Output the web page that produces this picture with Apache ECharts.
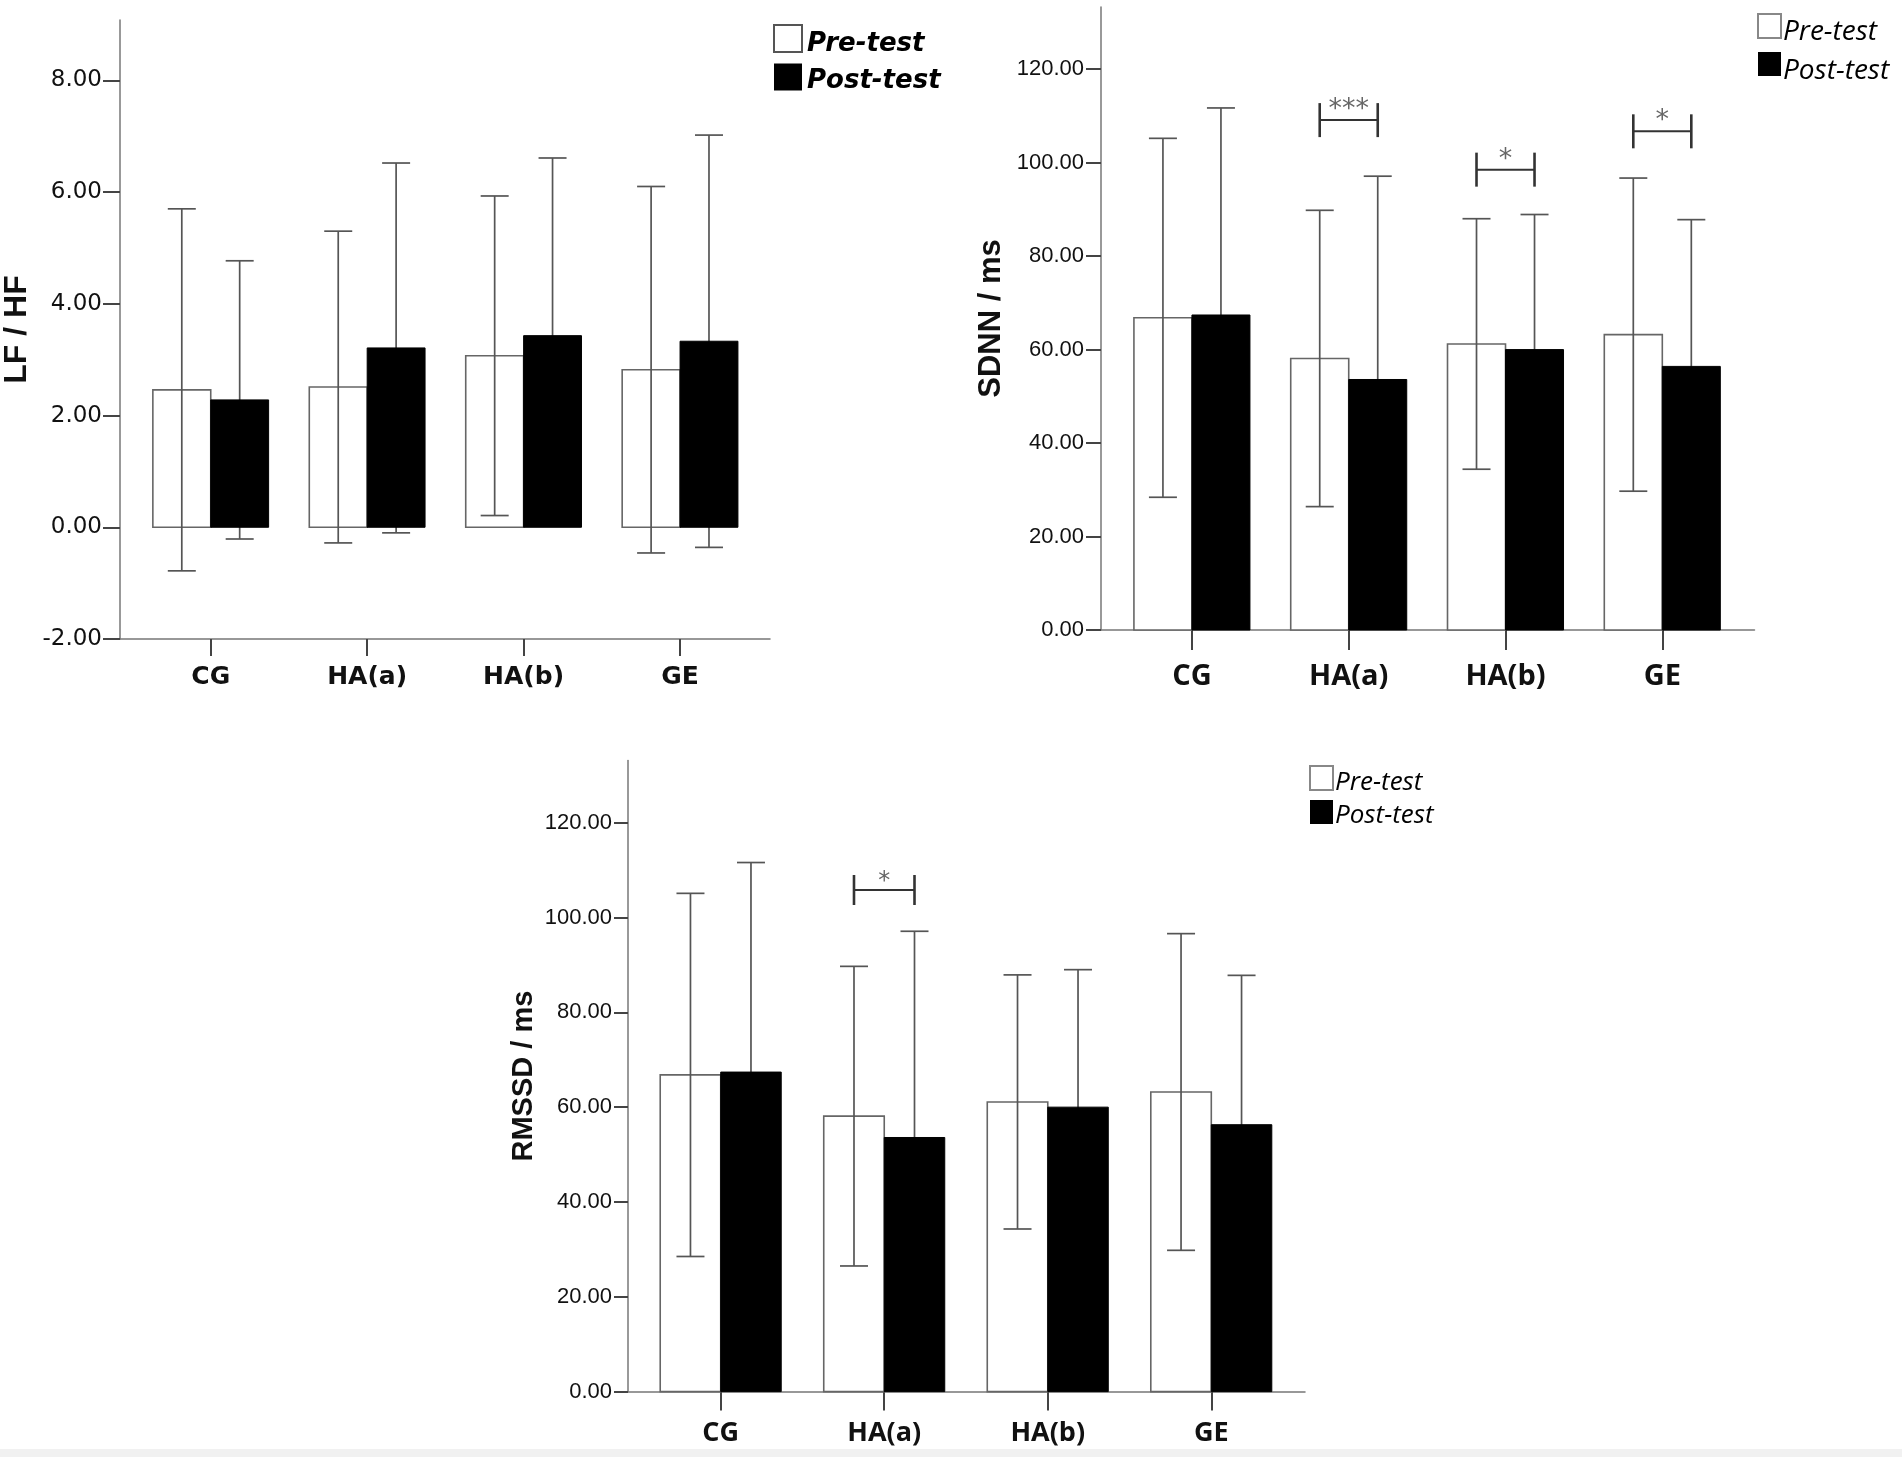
<!DOCTYPE html>
<html><head><meta charset="utf-8">
<script src="https://cdn.jsdelivr.net/npm/echarts@6/dist/echarts.min.js"></script>
<style>html,body{margin:0;padding:0;background:#fff}#c{width:1902px;height:1457px}</style>
</head><body><div id="c"></div><script>
// ---------------- data ----------------
const groups = ['CG', 'HA(a)', 'HA(b)', 'GE'];
const groupTicks = [0, 1, 2, 3];

const lfhfPreMean  = [2.46, 2.51, 3.07, 2.82];
const lfhfPreSD    = [3.24, 2.79, 2.86, 3.28];
const lfhfPostMean = [2.28, 3.21, 3.43, 3.33];
const lfhfPostSD   = [2.49, 3.31, 3.18, 3.69];
const lfhfTicks    = [-2, 0, 2, 4, 6, 8];

const sdnnPreMean  = [66.8, 58.1, 61.2, 63.2];
const sdnnPreSD    = [38.4, 31.7, 26.8, 33.5];
const sdnnPostMean = [67.4, 53.6, 60.0, 56.4];
const sdnnPostSD   = [44.3, 43.5, 28.9, 31.4];

const rmssdPreMean  = [66.8, 58.1, 61.1, 63.2];
const rmssdPreSD    = [38.3, 31.6, 26.8, 33.4];
const rmssdPostMean = [67.4, 53.6, 60.0, 56.3];
const rmssdPostSD   = [44.2, 43.5, 29.0, 31.5];

const msTicks = [0, 20, 40, 60, 80, 100, 120];

const sdnnSigGroups = [1, 2, 3];
const sdnnSigY      = [109.1, 98.5, 106.7];
const sdnnSigLabels = ['***', '*', '*'];

const rmssdSigGroups = [1];
const rmssdSigY      = [105.8];
const rmssdSigLabels = ['*'];

const legendNames = ['Pre-test', 'Post-test'];

// ---------------- font check ----------------
function hasFont(name) {
  const ctx = document.createElement('canvas').getContext('2d');
  const s = 'abcdefghijklmnop0123456789.';
  ctx.font = '40px monospace';
  const w1 = ctx.measureText(s).width;
  ctx.font = "40px '" + name + "', monospace";
  const w2 = ctx.measureText(s).width;
  return Math.abs(w1 - w2) > 0.5;
}
const narrowOK = hasFont('Liberation Sans Narrow');
const msFont = narrowOK ? 'Liberation Sans Narrow' : 'Liberation Sans';
const msFontSize = narrowOK ? 26 : 22;

// ---------------- rendering helpers ----------------
const BW = 0.37; // bar width in category units

function barRender(side) {
  return function (params, api) {
    const x = api.value(0), v = api.value(1);
    const a = api.coord([side < 0 ? x - BW : x, v]);
    const b = api.coord([side < 0 ? x : x + BW, 0]);
    return {
      type: 'rect',
      shape: { x: Math.min(a[0], b[0]), y: Math.min(a[1], b[1]),
               width: Math.abs(b[0] - a[0]), height: Math.abs(b[1] - a[1]) },
      style: side < 0 ? { fill: '#fff', stroke: '#666', lineWidth: 1.6 }
                      : { fill: '#000', stroke: '#000', lineWidth: 1 }
    };
  };
}

function errRender(params, api) {
  const x = api.value(0) + api.value(3) * BW / 2;
  const m = api.value(1), s = api.value(2);
  const t = api.coord([x, m + s]), b = api.coord([x, m - s]);
  const cw = 14;
  const st = { stroke: '#555', lineWidth: 1.7 };
  return { type: 'group', children: [
    { type: 'line', shape: { x1: t[0], y1: t[1], x2: b[0], y2: b[1] }, style: st },
    { type: 'line', shape: { x1: t[0] - cw, y1: t[1], x2: t[0] + cw, y2: t[1] }, style: st },
    { type: 'line', shape: { x1: b[0] - cw, y1: b[1], x2: b[0] + cw, y2: b[1] }, style: st }
  ] };
}

function sigRender(labels, h, fs) {
  return function (params, api) {
    const g = api.value(0), y = api.value(1);
    const L = api.coord([g - BW / 2, y]), R = api.coord([g + BW / 2, y]);
    return { type: 'group', children: [
      { type: 'line', shape: { x1: L[0], y1: L[1], x2: R[0], y2: R[1] }, style: { stroke: '#333', lineWidth: 2 } },
      { type: 'line', shape: { x1: L[0], y1: L[1] - h, x2: L[0], y2: L[1] + h }, style: { stroke: '#333', lineWidth: 2.6 } },
      { type: 'line', shape: { x1: R[0], y1: R[1] - h, x2: R[0], y2: R[1] + h }, style: { stroke: '#333', lineWidth: 2.6 } },
      { type: 'text', x: (L[0] + R[0]) / 2, y: L[1] - h + 7,
        style: { text: labels[params.dataIndex], fill: '#666', fontSize: fs, fontFamily: 'DejaVu Sans',
                 align: 'center', verticalAlign: 'middle' } }
    ] };
  };
}

function errData(preM, preS, postM, postS) {
  const d = [];
  groups.forEach((g, i) => d.push([i, preM[i], preS[i], -1]));
  groups.forEach((g, i) => d.push([i, postM[i], postS[i], 1]));
  return d;
}

function chartSeries(k, preM, preS, postM, postS, sig) {
  const s = [
    { type: 'custom', name: 'Pre-test', xAxisIndex: k, yAxisIndex: k, z: 2,
      renderItem: barRender(-1), data: groups.map((g, i) => [i, preM[i]]) },
    { type: 'custom', name: 'errorbars' + k, xAxisIndex: k, yAxisIndex: k, z: 3,
      renderItem: errRender, data: errData(preM, preS, postM, postS) },
    { type: 'custom', name: 'Post-test', xAxisIndex: k, yAxisIndex: k, z: 4,
      renderItem: barRender(1), data: groups.map((g, i) => [i, postM[i]]) }
  ];
  if (sig) {
    s.push({ type: 'custom', name: 'sig' + k, xAxisIndex: k, yAxisIndex: k, z: 5,
      renderItem: sigRender(sig.labels, sig.h, sig.fs),
      data: sig.groups.map((g, i) => [g, sig.y[i]]) });
  }
  return s;
}

const axisLine = { show: true, onZero: false, lineStyle: { color: '#777', width: 1.5 } };
const tickLine = { color: '#444', width: 2 };

function xAxisCfg(k, min, max, tickLen, font, fs, margin) {
  return {
    gridIndex: k, type: 'value', min: min, max: max, position: 'bottom',
    axisLine: axisLine, splitLine: { show: false },
    axisTick: { show: true, customValues: groupTicks, length: tickLen, lineStyle: tickLine },
    axisLabel: { customValues: groupTicks, formatter: v => groups[Math.round(v)],
      margin: margin, color: '#111', fontFamily: font, fontWeight: 'bold', fontSize: fs }
  };
}

function yAxisCfg(k, min, max, ticks, tickLen, font, fs, margin, name, nameFont, nameFs, nameGap) {
  return {
    gridIndex: k, type: 'value', min: min, max: max,
    axisLine: axisLine, splitLine: { show: false },
    axisTick: { show: true, customValues: ticks, length: tickLen, lineStyle: tickLine },
    axisLabel: { customValues: ticks, formatter: v => v.toFixed(2), margin: margin,
      color: '#111', fontFamily: font, fontSize: fs },
    name: name, nameLocation: 'middle', nameGap: nameGap,
    nameTextStyle: { fontFamily: nameFont, fontWeight: 'bold', fontSize: nameFs, color: '#111' }
  };
}

// legend boxes (icons only)
function legendIcons(left, top, w, h, gap, border) {
  return {
    left: left, top: top, orient: 'vertical', padding: 0, icon: 'rect',
    itemWidth: w, itemHeight: h, itemGap: gap, selectedMode: false,
    formatter: () => '',
    data: [
      { name: legendNames[0], itemStyle: { color: '#fff', borderColor: border, borderWidth: 2 } },
      { name: legendNames[1], itemStyle: { color: '#000', borderColor: '#000', borderWidth: 0 } }
    ],
    textStyle: { fontSize: 1 }
  };
}
// legend texts (one item each)
function legendText(idx, left, top, font, weight, fs) {
  return {
    left: left, top: top, orient: 'vertical', padding: 0, icon: 'rect',
    itemWidth: 1, itemHeight: 1, selectedMode: false,
    data: [{ name: legendNames[idx], itemStyle: { color: 'rgba(0,0,0,0)', borderWidth: 0 } }],
    textStyle: { fontFamily: font, fontWeight: weight, fontStyle: 'italic', fontSize: fs, color: '#000' }
  };
}

const option = {
  backgroundColor: '#fff',
  animation: false,
  grid: [
    { left: 120, top: 20, width: 650, height: 619, outerBoundsMode: 'none' },
    { left: 1101, top: 7, width: 653.5, height: 623, outerBoundsMode: 'none' },
    { left: 628, top: 760.6, width: 677, height: 631, outerBoundsMode: 'none' }
  ],
  xAxis: [
    xAxisCfg(0, -0.58, 3.575, 17, 'DejaVu Sans', 25, 26),
    xAxisCfg(1, -0.58, 3.588, 20, 'Open Sans', 29, 32),
    xAxisCfg(2, -0.567, 3.573, 19, 'Open Sans', 27, 28)
  ],
  yAxis: [
    yAxisCfg(0, -2, 9.08, lfhfTicks, 17, 'DejaVu Sans', 23, 18, 'LF / HF', 'Liberation Sans', 32, 87),
    yAxisCfg(1, 0, 133.3, msTicks, 15, msFont, msFontSize, 17, 'SDNN / ms', 'Liberation Sans', 31, 94),
    yAxisCfg(2, 0, 133.1, msTicks, 14, msFont, msFontSize, 16, 'RMSSD / ms', 'Liberation Sans', 29, 90)
  ],
  legend: [
    legendIcons(773, 24, 28, 27, 10.5, '#555'),
    legendText(0, 801, 31.5, 'DejaVu Sans', 'bold', 26),
    legendText(1, 801, 68.5, 'DejaVu Sans', 'bold', 26),
    legendIcons(1757, 13, 23, 24, 13, '#888'),
    legendText(0, 1777, 18, 'Open Sans', 'normal', 28),
    legendText(1, 1777, 57, 'Open Sans', 'normal', 28),
    legendIcons(1309, 765, 23, 24, 9, '#888'),
    legendText(0, 1329, 769.5, 'Open Sans', 'normal', 26),
    legendText(1, 1329, 802.5, 'Open Sans', 'normal', 26)
  ],
  graphic: [
    { type: 'rect', shape: { x: 0, y: 1449, width: 1902, height: 8 }, style: { fill: '#f1f1f1' }, silent: true }
  ],
  series: [].concat(
    chartSeries(0, lfhfPreMean, lfhfPreSD, lfhfPostMean, lfhfPostSD, null),
    chartSeries(1, sdnnPreMean, sdnnPreSD, sdnnPostMean, sdnnPostSD,
      { groups: sdnnSigGroups, y: sdnnSigY, labels: sdnnSigLabels, h: 17, fs: 27 }),
    chartSeries(2, rmssdPreMean, rmssdPreSD, rmssdPostMean, rmssdPostSD,
      { groups: rmssdSigGroups, y: rmssdSigY, labels: rmssdSigLabels, h: 15, fs: 24 })
  )
};

const chart = echarts.init(document.getElementById('c'), null, { renderer: 'canvas' });
chart.setOption(option);
</script></body></html>
